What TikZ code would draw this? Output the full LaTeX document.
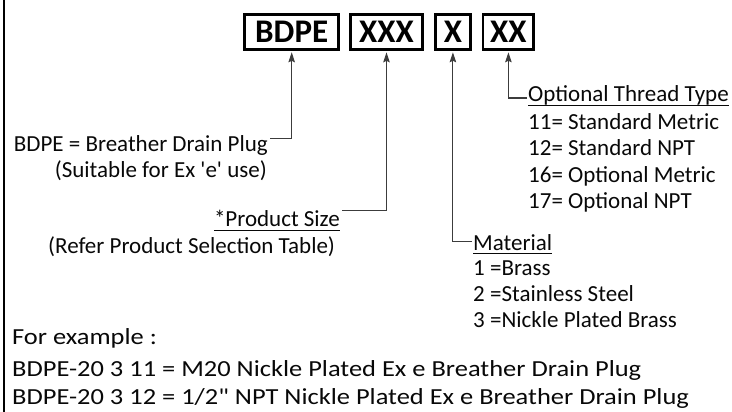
\documentclass[tikz,border=0pt]{standalone}
\usepackage{fontspec}
\setmainfont{Carlito}[Ligatures=TeXOff]
\newfontfamily\widefont{Carlito}[Ligatures=TeXOff,FakeStretch=1.15]
\usetikzlibrary{arrows.meta}
\definecolor{leadgray}{RGB}{60,60,60}
\definecolor{inkblack}{RGB}{8,8,8}

\begin{document}
\begin{tikzpicture}[x=1pt,y=-1pt,
    codebox/.style={draw, line width=2.6pt, inner sep=0pt, minimum height=35pt,
      font=\fontsize{33}{33}\selectfont\bfseries},
    lbl/.style={inner sep=0pt, text=inkblack, font=\fontsize{23}{27}\selectfont},
    example/.style={inner sep=0pt, anchor=base west, text=inkblack,
      font=\widefont\fontsize{23}{29}\selectfont},
    uline/.style={inkblack, line width=1.3pt},
    lead/.style={leadgray, line width=1.1pt, shorten >=1.3pt,
      -{Stealth[length=10pt,width=6.5pt,inset=1.5pt]}}]
    \useasboundingbox (0,0) rectangle (732,412);
    \draw[line width=2pt] (3.5,0) -- (3.5,412);

    % part number code
    \node[codebox, minimum width=94pt] (bdpe) at (291.7,32.2) {BDPE};
    \node[codebox, minimum width=72.4pt] (xxx) at (386.5,32.2) {XXX};
    \node[codebox, minimum width=35pt] (x) at (452.9,32.2) {X};
    \node[codebox, minimum width=50.7pt] (xx) at (508.4,32.2) {XX};

    % what each part means
    \node[lbl, anchor=base east] (plugLbl) at (268,151.7) {BDPE = Breather Drain Plug};
    \node[lbl, anchor=base east] (useLbl) at (267,177.5) {(Suitable for Ex 'e' use)};
    \node[lbl, anchor=base east] (sizeLbl) at (340,226.7) {*Product Size};
    \node[lbl, anchor=base west] (referLbl) at (48,253) {(Refer Product Selection Table)};

    \node[lbl, anchor=base west] (threadLbl) at (528,101.7) {Optional Thread Type};
    \node[lbl, anchor=base west] (thread11) at (528,129.3) {11= Standard Metric};
    \node[lbl, anchor=base west] (thread12) at (528,156) {12= Standard NPT};
    \node[lbl, anchor=base west] (thread16) at (528,182.7) {16= Optional Metric};
    \node[lbl, anchor=base west] (thread17) at (528,208.3) {17= Optional NPT};

    \node[lbl, anchor=base west] (matLbl) at (473,250) {Material};
    \node[lbl, anchor=base west] (mat1) at (473,275.5) {1 =Brass};
    \node[lbl, anchor=base west] (mat2) at (473,301.5) {2 =Stainless Steel};
    \node[lbl, anchor=base west] (mat3) at (473,327) {3 =Nickle Plated Brass};

    % underlined headings
    \draw[uline] ([yshift=-3.6pt]sizeLbl.base west) -- ([yshift=-3.6pt]sizeLbl.base east);
    \draw[uline] ([yshift=-3.6pt]threadLbl.base west) -- ([yshift=-3.6pt]threadLbl.base east);
    \draw[uline] ([yshift=-3.6pt]matLbl.base west) -- ([yshift=-3.6pt]matLbl.base east);

    \coordinate (plugEnd) at (270,138.3);
    \coordinate (sizeEnd) at (342,210.7);
    \coordinate (matEnd) at (472,241.7);
    \coordinate (threadEnd) at (527,98);
    \draw[lead] (plugEnd) -| (bdpe.south);
    \draw[lead] (sizeEnd) -| (xxx.south);
    \draw[lead] (matEnd) -| (x.south);
    \draw[lead] (threadEnd) -| (xx.south);

    % examples
    \node[example] (forEx) at (12,344.4) {For example :};
    \node[example] (ex11) at (12,376.6) {BDPE-20 3 11 = M20 Nickle Plated Ex e Breather Drain Plug};
    \node[example] (ex12) at (12,404) {BDPE-20 3 12 = 1/2" NPT Nickle Plated Ex e Breather Drain Plug};
  \end{tikzpicture}
\end{document}
